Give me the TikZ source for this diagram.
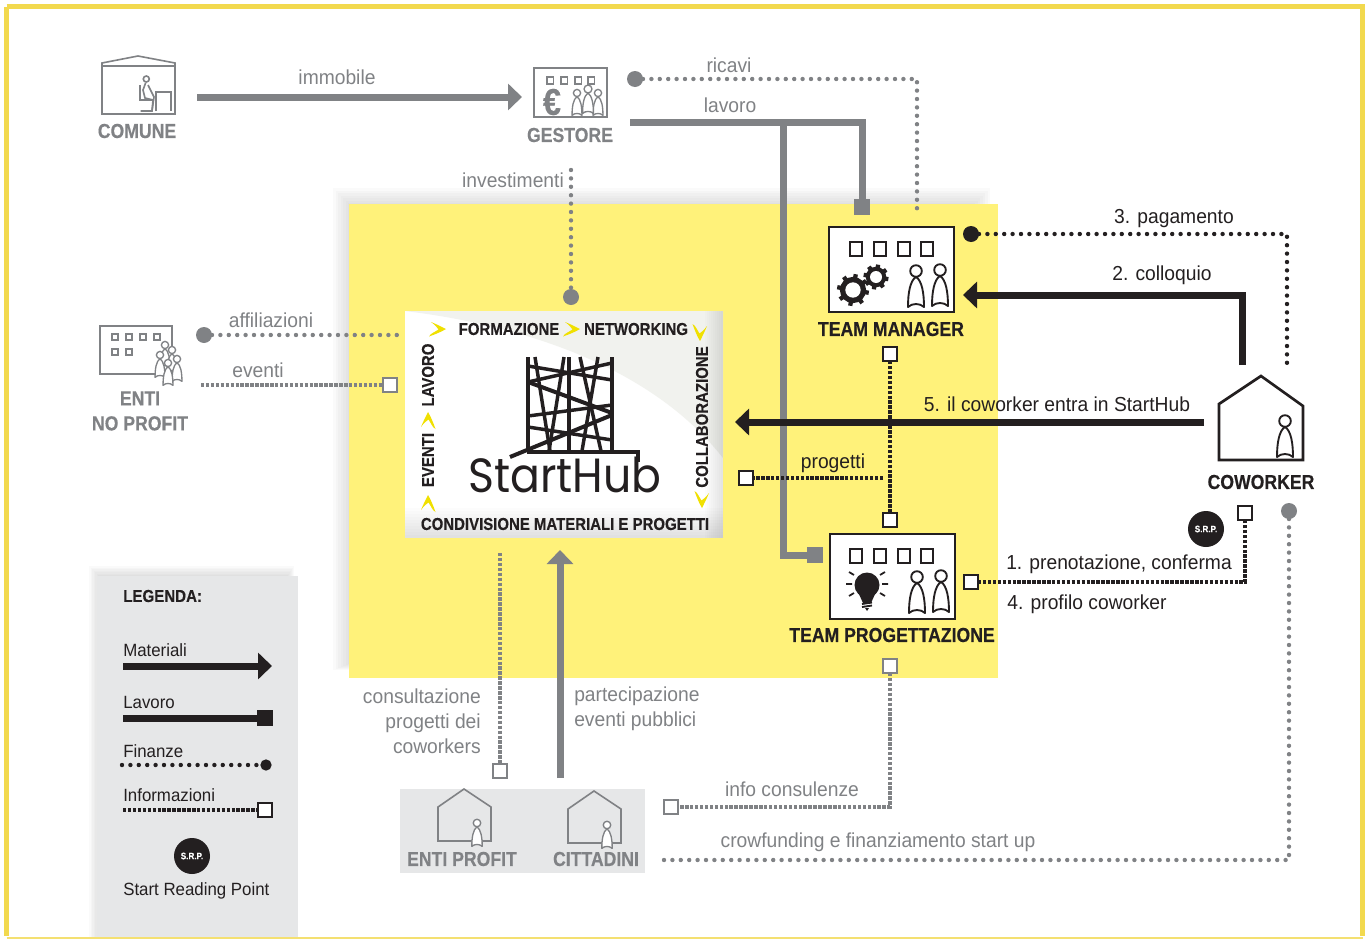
\documentclass[tikz,border=0pt]{standalone}
\usepackage{fontspec}
\setmainfont{Liberation Sans}[FakeStretch=0.95,BoldFeatures={FakeStretch=0.87,FakeBold=0.3}]
\newfontfamily\logofont{Poppins}[FakeStretch=0.92]
\usetikzlibrary{arrows.meta,calc}
\definecolor{ink}{HTML}{231F20}
\definecolor{gry}{HTML}{808285}
\definecolor{panel}{HTML}{E6E7E8}
\definecolor{yel}{HTML}{FFF27A}
\definecolor{frame}{HTML}{F2D94E}
\definecolor{chev}{HTML}{F0E000}
\definecolor{offw}{HTML}{F1F2EE}
\newcommand\lab{\fontsize{15.2}{18.75}\selectfont}
\newcommand\ttl{\fontsize{15.2}{18.75}\selectfont\bfseries}
\newcommand\leg{\fontsize{13.3}{16}\selectfont}
\tikzset{
 mater/.style={draw=#1,line width=5.25pt,-{Triangle[length=10.5pt,width=19.5pt]}},
 lavor/.style={draw=#1,line width=5.25pt},
 finan/.style={draw=#1,line width=3.3pt,line cap=round,dash pattern=on 0pt off 6.3pt},
 infor/.style={draw=#1,line width=3.3pt,dash pattern=on 2.6pt off 1.1pt},
 sqbox/.style={draw=#1,fill=white,line width=1.8pt,minimum size=10.5pt,inner sep=0pt,outer sep=0pt},
 lavend/.style={fill=#1,minimum size=12pt,inner sep=0pt,outer sep=0pt},
 dotend/.style={circle,fill=#1,minimum size=12pt,inner sep=0pt,outer sep=0pt},
 srp/.style={circle,fill=ink,text=white,minimum size=27pt,inner sep=0pt,font=\fontsize{7}{8}\selectfont\bfseries},
 txt/.style={text=#1,inner sep=0pt,font=\lab},
 txt/.default=ink,
 ttlt/.style={text=#1,inner sep=0pt,font=\ttl},
 ttlt/.default=ink,
 midt/.style={text=ink,inner sep=0pt,font=\fontsize{12.9}{14}\selectfont\bfseries},
 legt/.style={text=ink,inner sep=0pt,anchor=west,font=\leg},
}
\newcommand\person[4]{\begin{scope}[shift={(#1,#2)},scale=#3]
 \draw[draw=#4,fill=white,line width=1.4pt] (0,0) circle (5.8);
 \draw[draw=#4,fill=white,line width=1.4pt,line join=round] (0,5.8) .. controls (-6,10) and (-8,22) .. (-8,36) .. controls (-4,32) and (4,32) .. (8,36) .. controls (8,22) and (6,10) .. (0,5.8) -- cycle;
\end{scope}}
\newcommand\smallperson[4]{\begin{scope}[shift={(#1,#2)},scale=#3]
 \draw[draw=#4,fill=white,line width=1pt] (0,0) circle (5.8);
 \draw[draw=#4,fill=white,line width=1pt,line join=round] (0,5.8) .. controls (-6,10) and (-8,22) .. (-8,36) .. controls (-4,32) and (4,32) .. (8,36) .. controls (8,22) and (6,10) .. (0,5.8) -- cycle;
\end{scope}}
\newcommand\gear[3]{\begin{scope}[shift={(#1,#2)}]
 \foreach \a in {0,45,...,315} \draw[ink,line width=3.2pt] (\a+10:#3*0.7) -- (\a+10:#3);
 \fill[ink] (0,0) circle (#3*0.82);
 \fill[white] (0,0) circle (#3*0.48);
\end{scope}}
\newcommand\chevron[3]{\begin{scope}[shift={(#1,#2)},rotate=#3]
 \fill[chev] (-7,-7) .. controls (-2,-5) and (2,-3) .. (8,0) .. controls (3,3) and (-2,5) .. (-9,7.5) .. controls (-7,4) and (-3,3) .. (0.5,0.5) .. controls (-1,-2) and (-3,-4) .. (-7,-7) -- cycle;
\end{scope}}
\newcommand\fourwins[2]{\foreach \wx in {856,880,904,927} \draw[ink,line width=2.2pt,fill=white] (\wx-6,#2-7) rectangle (\wx+6,#2+7);}
\begin{document}
\begin{tikzpicture}[x=0.75pt,y=-0.75pt]
\useasboundingbox (0,0) rectangle (1365,939);
\fill[white] (0,0) rectangle (1365,939);
% frame
\draw[frame,line width=3.75pt] (6.5,6.5) -- (1362.5,6.5) -- (1362.5,936) ;
\draw[frame,line width=3.75pt] (6.5,6.5) -- (6.5,936);
\draw[frame,line width=1.5pt,opacity=.8] (6.5,938) -- (1362.5,938);
% soft shadows
\foreach \i in {0,...,7}
 \fill[gray,opacity=.035] ({333+\i*2.5},{188+\i*2.5}) rectangle ({990-\i*2.5},{670-\i});
\foreach \i in {0,...,6}
 \fill[gray,opacity=.035] ({89+\i*1.5},{566+\i*1.5}) rectangle ({294-\i},937);
% panels
\fill[panel] (97,576) rectangle (298,937);
\fill[yel] (349,204) rectangle (998,678);
\fill[panel] (400,789) rectangle (645,873);
% central box
\fill[white] (405,311) rectangle (723,538);
\fill[offw] (405,311) .. controls (520,325) and (650,365) .. (723,458) -- (723,311) -- cycle;
\foreach \i in {0,...,9} \fill[gray,opacity=.022] ({705+\i*2},311) rectangle (723,538);
\foreach \i in {0,...,9} \fill[gray,opacity=.022] (405,{508+\i*3}) rectangle (723,538);
% chevrons
\chevron{438}{329}{0}
\chevron{572}{329}{0}
\chevron{700}{333}{-90}
\chevron{702}{500}{-90}
\chevron{428}{420}{90}
\chevron{428}{503}{90}
% centre texts
\node[midt] (tform) at (509,329) {FORMAZIONE};
\node[midt] (tnetw) at (636,329) {NETWORKING};
\node[midt,rotate=90] (tlav) at (428,375) {LAVORO};
\node[midt,rotate=90] (tev) at (428,460) {EVENTI};
\node[midt,rotate=90] (tcoll) at (702,417) {COLLABORAZIONE};
\node[midt] (tcond) at (565,524) {CONDIVISIONE MATERIALI E PROGETTI};
% logo
\begin{scope}[ink,line width=2.6pt]
 \draw (528,357) -- (528,452); \draw (569,357) -- (569,452); \draw (612,357) -- (612,452);
 \draw (527,452) -- (638,452) -- (638,462);
 \draw (528,366) -- (612,380);
 \draw (528,382) -- (612,363);
 \draw[line width=3pt] (528,382) -- (612,413);
 \draw (528,416) -- (612,405);
 \draw[line width=3pt] (510,457) -- (612,415);
 \draw (528,427) -- (612,440);
 \draw (535,357) -- (550,451);
 \draw (564,357) -- (549,451);
 \draw (580,357) -- (601,451);
 \draw (598,357) -- (582,451);
\end{scope}
\node[inner sep=0pt,text=ink,font=\logofont\fontsize{36}{36}\selectfont] (logo) at (565,475) {StartHub};
% COMUNE icon
\begin{scope}[gry,line width=1.2pt]
 \draw (102,66) rectangle (175,114);
 \draw (102,63) -- (138,56) -- (175,63) -- (175,66) -- (102,66) -- cycle;
 \draw (146.3,79) circle (3);
 \draw (140,85) -- (140,100) -- (152,100);
 \draw (145.7,82.7) -- (143,90) -- (145,98) -- (153,100) -- (152,111) -- (140.7,111);
 \draw (148,85) -- (154,97) -- (152,111);
 \draw (155.7,111) -- (155.7,91.7) -- (170.7,91.7) -- (170.7,111);
\end{scope}
\node[ttlt=gry] (comune) at (137,131) {COMUNE};
% GESTORE icon
\draw[gry,line width=1.2pt] (534,68) rectangle (607,117);
\foreach \wx in {550,564,578,591} \draw[gry,line width=1.2pt] (\wx-3.3,77) rectangle (\wx+3.3,84);
\node[text=gry,inner sep=0pt,font=\fontsize{28}{28}\selectfont\bfseries] (euro) at (552,102) {€};
\smallperson{577}{93}{.62}{gry}
\smallperson{598}{93}{.62}{gry}
\smallperson{588}{89}{.68}{gry}
\node[ttlt=gry] (gestore) at (570,135) {GESTORE};
% ENTI NO PROFIT icon
\draw[gry,line width=1.2pt] (100,326) rectangle (172,374);
\foreach \wx/\wy in {115/337,129/337,143/337,157/337,115/352,129/352} \draw[gry,line width=1.2pt] (\wx-3,\wy-3.2) rectangle (\wx+3,\wy+3.2);
\smallperson{165}{345}{.62}{gry}
\smallperson{172}{350}{.62}{gry}
\smallperson{160}{355}{.62}{gry}
\smallperson{177}{359}{.62}{gry}
\smallperson{168}{363}{.62}{gry}
\node[ttlt=gry,align=center] (entinp) at (140,411) {ENTI\\NO PROFIT};
% TEAM MANAGER
\draw[ink,line width=2.1pt,fill=white] (829,227) rectangle (954,312);
\fourwins{0}{249}
\gear{853}{290}{16}
\gear{876}{277}{12.5}
\person{916}{271}{1}{ink}
\person{940}{270}{1}{ink}
\node[ttlt] (tm) at (891,329) {TEAM MANAGER};
% TEAM PROGETTAZIONE
\draw[ink,line width=2.1pt,fill=white] (830,534) rectangle (955,619);
\fourwins{0}{556}
\begin{scope}[ink]
 \fill (867,585) circle (12.5);
 \fill (858,592) -- (876,592) -- (871,603) -- (863,603) -- cycle;
 \draw[line width=1.4pt] (862,604) -- (872,602.5) (862,607) -- (872,605.5);
 \fill (865,608) -- (869,608) -- (867,611) -- cycle;
 \draw[line width=1.3pt] (846,584) -- (852,584) (882,584) -- (888,584)
  (849,572) -- (854,575) (880,575) -- (885,572) (849,596) -- (854,593) (880,593) -- (885,596);
\end{scope}
\person{917}{577}{1}{ink}
\person{941}{576}{1}{ink}
\node[ttlt] (tp) at (892,635) {TEAM PROGETTAZIONE};
% COWORKER
\draw[ink,line width=2pt,line join=miter] (1219,404) -- (1261,376) -- (1303,406) -- (1303,460) -- (1219,460) -- cycle;
\person{1285}{421}{1}{ink}
\node[ttlt] (cow) at (1261,482) {COWORKER};
% ENTI PROFIT / CITTADINI
\draw[gry,line width=1.2pt] (438,807) -- (464,789) -- (491,807) -- (491,841) -- (438,841) -- cycle;
\smallperson{477}{823}{.65}{gry}
\node[ttlt=gry] (ep) at (462,859) {ENTI PROFIT};
\draw[gry,line width=1.2pt] (568,809) -- (594,791) -- (621,809) -- (621,843) -- (568,843) -- cycle;
\smallperson{607}{825}{.65}{gry}
\node[ttlt=gry] (cit) at (596,859) {CITTADINI};
% terminals
\node[dotend=gry] (dricavi) at (635,79) {};
\node[lavend=gry] (slavm) at (862,207) {};
\node[lavend=gry] (slavp) at (815,555) {};
\node[dotend=gry] (dinv) at (571,297) {};
\node[dotend=gry] (daff) at (204,335) {};
\node[sqbox=gry] (seve) at (390,385) {};
\node[dotend=ink] (dpag) at (971,234) {};
\node[sqbox=ink] (sprog) at (746,478) {};
\node[sqbox=ink] (stm) at (890,354) {};
\node[sqbox=ink] (stp) at (890,520) {};
\node[sqbox=ink] (spren) at (971,582) {};
\node[sqbox=ink] (scow) at (1245,513) {};
\node[dotend=gry] (dcrow) at (1289,511) {};
\node[sqbox=gry] (stpb) at (890,666) {};
\node[sqbox=gry] (sinfo) at (671,807) {};
\node[sqbox=gry] (scons) at (500,771) {};
\node[srp] (srp1) at (1206,529) {S.R.P.};
\node[srp] (srp2) at (192,856) {S.R.P.};
% free ends
\coordinate (immA) at (197,97); \coordinate (immB) at (522,97);
\coordinate (ricC) at (917,215);
\coordinate (lavA) at (630,122);
\coordinate (lavJ) at (783,122);
\coordinate (invA) at (571,170);
\coordinate (affB) at (400,335);
\coordinate (eveA) at (201,385);
\coordinate (pagC) at (1287,368);
\coordinate (colA) at (1242,365); \coordinate (colB) at (963,295);
\coordinate (ingA) at (1204,422); \coordinate (ingB) at (735,422);
\coordinate (proA) at (883,478);
\coordinate (croC) at (660,860);
\coordinate (parA) at (560,778); \coordinate (parB) at (560,550);
\coordinate (conA) at (500,553);
% connectors
\draw[mater=gry] (immA) -- (immB);
\draw[finan=gry] (dricavi) -- (dricavi -| ricC) -- (ricC);
\draw[lavor=gry,line join=miter] (lavA) -- (lavA -| slavm) -- (slavm);
\draw[lavor=gry,line join=miter] (lavJ) -- (lavJ |- slavp) -- (slavp);
\draw[finan=gry] (invA) -- (dinv);
\draw[finan=gry] (daff) -- (affB);
\draw[infor=gry] (eveA) -- (seve);
\draw[finan=ink] (dpag) -- (dpag -| pagC) -- (pagC);
\draw[mater=ink,line join=miter] (colA) -- (colA |- colB) -- (colB);
\draw[mater=ink] (ingA) -- (ingB);
\draw[infor=ink] (proA) -- (sprog);
\draw[infor=ink] (stm) -- (stp);
\draw[infor=ink] (spren) -- (spren -| scow) -- (scow);
\draw[finan=gry] (dcrow) -- (dcrow |- croC) -- (croC);
\draw[infor=gry] (stpb) -- (stpb |- sinfo) -- (sinfo);
\draw[infor=gry] (conA) -- (scons);
\draw[mater=gry] (parA) -- (parB);
% labels
\node[txt=gry] (limm) at (337,77.5) {immobile};
\node[txt=gry] (lric) at (729,65) {ricavi};
\node[txt=gry] (llav) at (730,105) {lavoro};
\node[txt=gry] (linv) at (513,180) {investimenti};
\node[txt=gry] (laff) at (271,320) {affiliazioni};
\node[txt=gry] (leve) at (258,370) {eventi};
\node[txt] (lpag) at (1174,219) {3. pagamento};
\node[txt] (lcol) at (1162,275.5) {2. colloquio};
\node[txt] (ling) at (1057,404) {5. il coworker entra in StartHub};
\node[txt] (lpro) at (833,463.5) {progetti};
\node[txt] (lpre) at (1119,564.5) {1. prenotazione, conferma};
\node[txt] (lpc) at (1087,604.5) {4. profilo coworker};
\node[txt=gry] (lcon) at (792,789) {info consulenze};
\node[txt=gry] (lcrow) at (878,842) {crowfunding e finanziamento start up};
\node[txt=gry,align=right,anchor=east] (lcons) at (481,721) {consultazione\\progetti dei\\coworkers};
\node[txt=gry,align=left,anchor=west] (lpart) at (574,709) {partecipazione\\eventi pubblici};
% legend
\node[legt,font=\fontsize{13}{16}\selectfont\bfseries] (lleg) at (123,596) {LEGENDA:};
\node[legt] (lmat) at (123,650) {Materiali};
\node[legt] (llv) at (123,702) {Lavoro};
\node[legt] (lfin) at (123,751) {Finanze};
\node[legt] (linf) at (123,795) {Informazioni};
\node[legt] (lsrp) at (123,891) {Start Reading Point};
\coordinate (k1) at (123,666); \coordinate (k2) at (272,666);
\coordinate (k3) at (123,718); \coordinate (k5) at (122,765); \coordinate (k7) at (123,810);
\node[lavend=ink] (k4) at (265,718) {};
\node[dotend=ink,minimum size=8.5pt] (k6) at (266,765) {};
\node[sqbox=ink] (k8) at (265,810) {};
\draw[mater=ink] (k1) -- (k2);
\draw[lavor=ink] (k3) -- (k4);
\draw[finan=ink] (k5) -- (k6);
\draw[infor=ink] (k7) -- (k8);
\end{tikzpicture}
\end{document}
